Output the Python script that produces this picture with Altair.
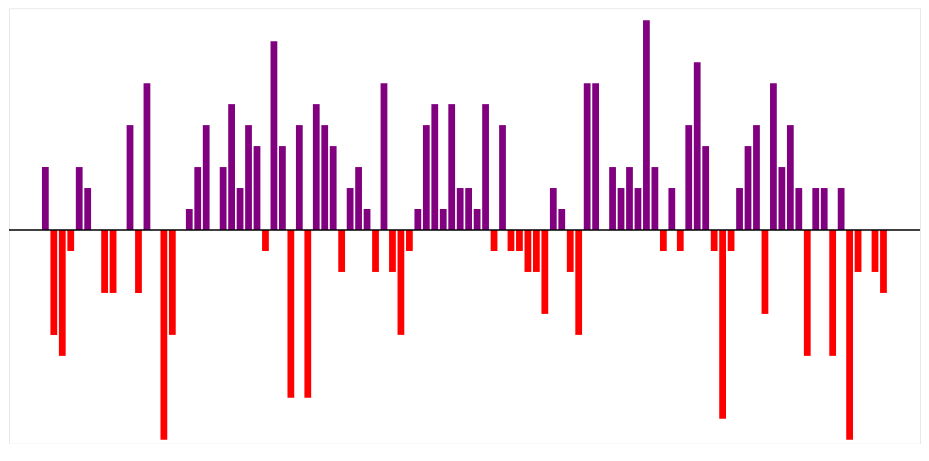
import altair as alt
import pandas as pd

values = [
    3, -5, -6, -1, 3, 2, 0, -3, -3, 0,
    5, -3, 7, 0, -10, -5, 0, 1, 3, 5,
    0, 3, 6, 2, 5, 4, -1, 9, 4, -8,
    5, -8, 6, 5, 4, -2, 2, 3, 1, -2,
    7, -2, -5, -1, 1, 5, 6, 1, 6, 2,
    2, 1, 6, -1, 5, -1, -1, -2, -2, -4,
    2, 1, -2, -5, 7, 7, 0, 3, 2, 3,
    2, 10, 3, -1, 2, -1, 5, 8, 4, -1,
    -9, -1, 2, 4, 5, -4, 7, 3, 5, 2,
    -6, 2, 2, -6, 2, -10, -2, 0, -2, -3,
]
indices = list(range(len(values)))
# empty slots on both sides of the bars
x_domain = list(range(-3, len(values) + 3))

df = pd.DataFrame({"idx": indices, "value": values})

y_scale = alt.Scale(domain=[-10.19, 10.571], nice=False)

bars = alt.Chart(df).mark_bar().encode(
    x=alt.X("idx:O", axis=None,
            scale=alt.Scale(domain=x_domain, paddingInner=0.2,
                            paddingOuter=0.905, align=0.494)),
    y=alt.Y("value:Q", axis=None, scale=y_scale),
    y2=alt.datum(0),
    color=alt.condition(alt.datum.value >= 0, alt.value("#800080"), alt.value("#ff0000")),
)

zero = alt.Chart(pd.DataFrame({"z": [0]})).mark_rule(color="#000000", strokeWidth=1.6).encode(
    y=alt.Y("z:Q", scale=y_scale, axis=None)
)

chart = (bars + zero).properties(width=912, height=436, padding=0).configure_view(stroke="#e8e8e8")

chart.save("out.html", embed_options={"renderer": "svg", "actions": False})
